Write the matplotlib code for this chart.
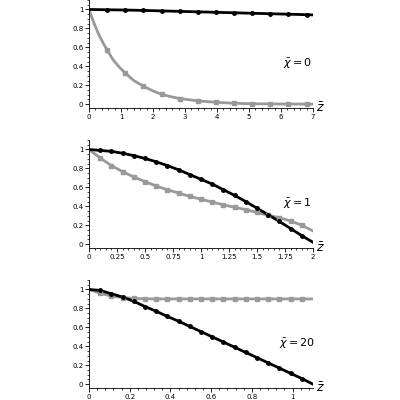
import matplotlib
matplotlib.use("Agg")
import matplotlib.pyplot as plt
from matplotlib.ticker import AutoMinorLocator

# Panel 1 (chi=0)
z1 = [0, 0.57, 1.13, 1.7, 2.27, 2.83, 3.4, 3.97, 4.53, 5.1, 5.67, 6.23, 6.8, 7.0]
black1 = [1.0, 0.997, 0.994, 0.99, 0.985, 0.98, 0.975, 0.97, 0.965, 0.96, 0.955, 0.95, 0.945, 0.943]
gray1 = [1.0, 0.57, 0.33, 0.19, 0.105, 0.06, 0.035, 0.02, 0.01, 0.005, 0.003, 0.002, 0.001, 0.001]
# extra read-off points of the smooth gray curve in panel 1
z1c = [0, 0.15, 0.3, 0.45, 0.57, 0.75, 0.95, 1.13, 1.4, 1.7, 2.0, 2.27, 2.55, 2.83, 3.4, 3.97, 4.53, 5.1, 5.67, 6.23, 6.8, 7.0]
gray1c = [1.0, 0.86, 0.74, 0.64, 0.57, 0.47, 0.39, 0.33, 0.25, 0.19, 0.14, 0.105, 0.08, 0.06, 0.035, 0.02, 0.01, 0.005, 0.003, 0.002, 0.001, 0.001]
# Panel 2 (chi=1)
z2 = [0, 0.1, 0.2, 0.3, 0.4, 0.5, 0.6, 0.7, 0.8, 0.9, 1.0, 1.1, 1.2, 1.3, 1.4, 1.5, 1.6, 1.7, 1.8, 1.9, 2.0]
black2 = [1.0, 0.99, 0.98, 0.96, 0.935, 0.905, 0.87, 0.83, 0.785, 0.735, 0.685, 0.635, 0.575, 0.515, 0.45, 0.38, 0.31, 0.24, 0.165, 0.09, 0.02]
gray2 = [1.0, 0.91, 0.83, 0.765, 0.71, 0.66, 0.615, 0.575, 0.54, 0.505, 0.475, 0.445, 0.415, 0.39, 0.365, 0.335, 0.305, 0.28, 0.245, 0.2, 0.14]
# Panel 3 (chi=20)
z3 = [0, 0.055, 0.11, 0.165, 0.22, 0.275, 0.33, 0.385, 0.44, 0.495, 0.55, 0.605, 0.66, 0.715, 0.77, 0.825, 0.88, 0.935, 0.99, 1.045, 1.1]
black3 = [1.0, 0.99, 0.955, 0.92, 0.875, 0.82, 0.77, 0.715, 0.665, 0.61, 0.555, 0.5, 0.445, 0.39, 0.335, 0.28, 0.225, 0.17, 0.115, 0.06, 0.0]
gray3 = [1.0, 0.96, 0.93, 0.915, 0.905, 0.902, 0.9, 0.9, 0.9, 0.9, 0.9, 0.9, 0.9, 0.9, 0.9, 0.9, 0.9, 0.9, 0.9, 0.9, 0.9]

panels = [
    (z1, black1, gray1, z1c, gray1c, 7, [0, 1, 2, 3, 4, 5, 6, 7], ['0', '1', '2', '3', '4', '5', '6', '7'], r'$\bar{\chi}=0$'),
    (z2, black2, gray2, z2, gray2, 2, [0, .25, .5, .75, 1, 1.25, 1.5, 1.75, 2], ['0', '0.25', '0.5', '0.75', '1', '1.25', '1.5', '1.75', '2'], r'$\bar{\chi}=1$'),
    (z3, black3, gray3, z3, gray3, 1.1, [0, .2, .4, .6, .8, 1], ['0', '0.2', '0.4', '0.6', '0.8', '1'], r'$\bar{\chi}=20$'),
]

fig = plt.figure(figsize=(4, 4), dpi=100)
bottoms = [0.73, 0.38, 0.03]
for (z, bk, gr, zc, grc, xmax, xt, xl, lab), b in zip(panels, bottoms):
    ax = fig.add_axes([0.2225, b, 0.56, 0.27])
    ax.plot(zc, grc, color='#999999', lw=2, zorder=2)
    ax.plot(z[1:-1], gr[1:-1], 's', color='#999999', ms=3, zorder=3)
    ax.plot(z, bk, color='black', lw=2, zorder=2)
    ax.plot(z[1:-1], bk[1:-1], 'o', color='black', ms=2.5, zorder=3)
    ax.set_xlim(0, xmax)
    ax.set_ylim(-0.04, 1.1)
    ax.set_xticks(xt)
    ax.set_xticklabels(xl)
    ax.set_yticks([0, .2, .4, .6, .8, 1])
    ax.set_yticklabels(['0', '0.2', '0.4', '0.6', '0.8', '1'])
    ax.xaxis.set_minor_locator(AutoMinorLocator(5))
    ax.yaxis.set_minor_locator(AutoMinorLocator(4))
    ax.tick_params(labelsize=5, length=3, width=0.6, pad=1)
    ax.tick_params(which='minor', length=1.5, width=0.5)
    for s in ['top', 'right']:
        ax.spines[s].set_visible(False)
    for s in ['left', 'bottom']:
        ax.spines[s].set_linewidth(0.6)
    ax.text(0.93, 0.38, lab, transform=ax.transAxes, fontsize=8, ha='center')
    ax.text(1.035, 0.0, r'$\bar{z}$', transform=ax.transAxes, fontsize=9, ha='center', va='center')

fig.savefig('out.png', dpi=100)
